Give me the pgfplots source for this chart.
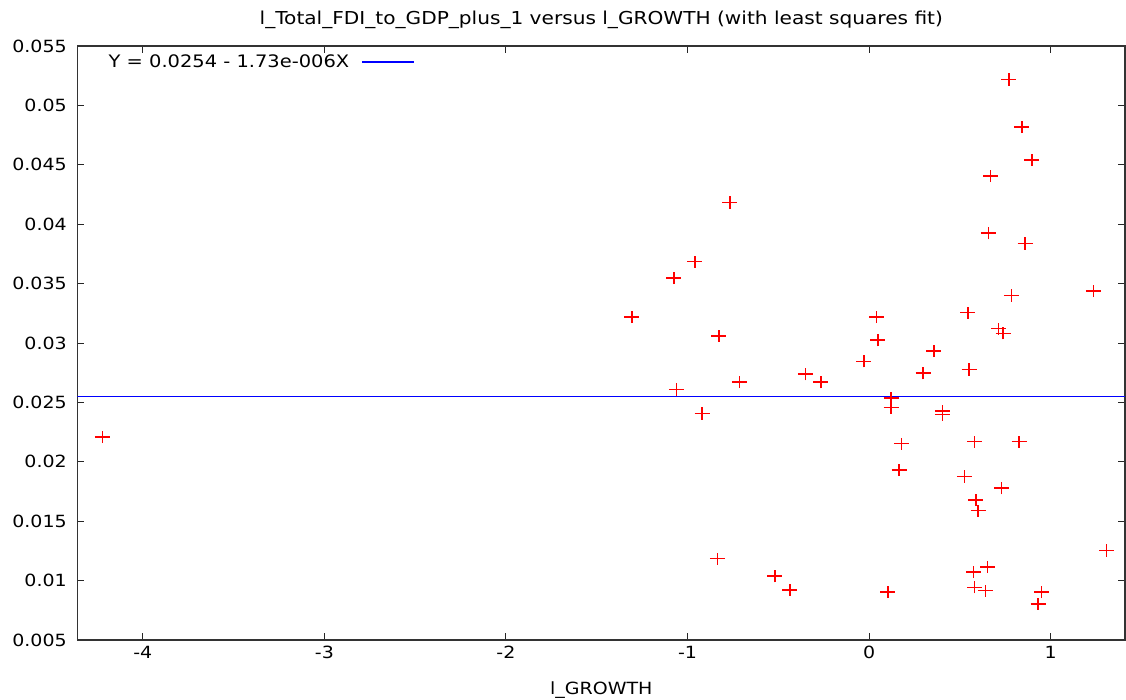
\documentclass[border=0pt]{standalone}
\usepackage{fontspec}
\setmainfont{DejaVu Sans}[FakeStretch=1.13]
\usepackage{pgfplots}
\pgfplotsset{compat=1.18}
\pgfdeclareplotmark{redplus}{%
  \pgfsetstrokecolor{red}%
  \pgfsetlinewidth{1.5pt}%
  \pgfpathmoveto{\pgfqpoint{-7.5pt}{0pt}}%
  \pgfpathlineto{\pgfqpoint{7.5pt}{0pt}}%
  \pgfpathmoveto{\pgfqpoint{0pt}{-6.2pt}}%
  \pgfpathlineto{\pgfqpoint{0pt}{6.2pt}}%
  \pgfusepathqstroke}
\begin{document}
\fontsize{16.8}{19}\selectfont
\begin{tikzpicture}
\path[use as bounding box] (-77.5pt,-59pt) rectangle (1048.5pt,640pt);
\begin{axis}[
  at={(0,0)}, anchor=south west,
  scale only axis, width=1047.5pt, height=594pt,
  xmin=-4.36, xmax=1.41, ymin=0.005, ymax=0.055,
  xtick={-4,-3,-2,-1,0,1},
  ytick={0.005,0.01,0.015,0.02,0.025,0.03,0.035,0.04,0.045,0.05,0.055},
  scaled y ticks=false,
  /pgf/number format/assume math mode=true,
  yticklabel style={/pgf/number format/fixed, /pgf/number format/precision=3, font=\fontsize{16.8}{19}\selectfont, xshift=-5pt},
  xticklabel style={font=\fontsize{16.8}{19}\selectfont},
  tick align=inside, major tick length=7pt,
  tick style={black!85, line width=1pt},
  axis line style={black!80, line width=1.3pt},
  title={l\_Total\_FDI\_to\_GDP\_plus\_1 versus l\_GROWTH (with least squares fit)},
  title style={at={(0.5,1)}, anchor=center, yshift=20pt, font=\fontsize{17.8}{19}\selectfont},
  xlabel={l\_GROWTH},
  xlabel style={at={(0.5,0)}, anchor=center, yshift=-50pt, font=\fontsize{16.8}{19}\selectfont},
  legend plot pos=right,
  legend cell align=left,
  legend style={draw=none, fill=none, at={(0,1)}, anchor=west, xshift=26pt, yshift=-16pt, font=\fontsize{17.2}{19}\selectfont},
  legend image code/.code={\path (0pt,0pt); \draw[#1] (10pt,0pt) -- (62pt,0pt);},
]
\addplot[blue, line width=1.2pt] coordinates {(-4.36,0.02548) (1.41,0.02548)};
\addlegendentry{Y = 0.0254 - 1.73e-006X}
\addplot[only marks, mark=redplus, forget plot] coordinates {
(-4.223,0.02209)
(-1.307,0.03219)
(-1.075,0.03547)
(-0.959,0.03684)
(-0.766,0.04184)
(-0.827,0.03061)
(-1.061,0.02609)
(-0.919,0.02407)
(-0.714,0.02672)
(-0.836,0.01184)
(-0.519,0.01037)
(-0.436,0.00923)
(-0.351,0.02738)
(-0.265,0.02671)
(-0.029,0.02846)
(0.042,0.03219)
(0.049,0.03024)
(0.122,0.02535)
(0.122,0.02457)
(0.104,0.00904)
(0.178,0.02152)
(0.165,0.01932)
(0.298,0.02747)
(0.357,0.02933)
(0.404,0.02428)
(0.404,0.02397)
(0.544,0.03255)
(0.551,0.02778)
(0.581,0.02169)
(0.525,0.01875)
(0.588,0.01680)
(0.601,0.01588)
(0.576,0.01073)
(0.653,0.01115)
(0.581,0.00944)
(0.642,0.00915)
(0.714,0.03120)
(0.738,0.03082)
(0.730,0.01779)
(0.770,0.05218)
(0.841,0.04818)
(0.897,0.04540)
(0.670,0.04407)
(0.657,0.03924)
(0.860,0.03837)
(0.784,0.03399)
(0.827,0.02169)
(0.951,0.00904)
(0.931,0.00805)
(1.235,0.03439)
(1.308,0.01254)
};
\end{axis}
\end{tikzpicture}
\end{document}
